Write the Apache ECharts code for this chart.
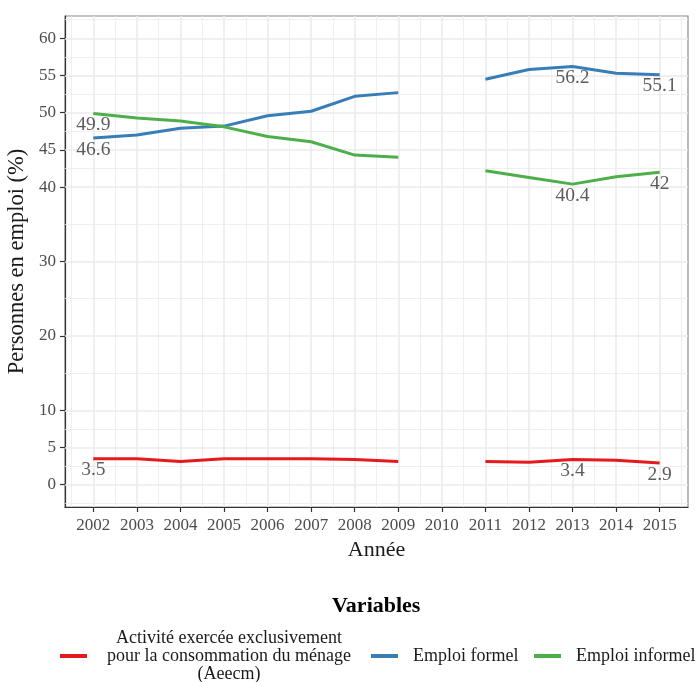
<!DOCTYPE html>
<html>
<head>
<meta charset="utf-8">
<script src="https://cdn.jsdelivr.net/npm/echarts@6/dist/echarts.min.js"></script>
<style>html,body{margin:0;padding:0;background:#fff}#c{width:698px;height:682px}</style>
</head>
<body>
<div id="c"></div>
<script>
const years = [2002, 2003, 2004, 2005, 2006, 2007, 2008, 2009, 2010, 2011, 2012, 2013, 2014, 2015];
const aeecm = [3.5, 3.5, 3.1, 3.5, 3.5, 3.5, 3.4, 3.1, null, 3.1, 3.0, 3.4, 3.3, 2.9];
const formel = [46.6, 47.0, 47.9, 48.2, 49.6, 50.2, 52.2, 52.7, null, 54.5, 55.8, 56.2, 55.3, 55.1];
const informel = [49.9, 49.3, 48.9, 48.1, 46.8, 46.1, 44.3, 44.0, null, 42.2, 41.3, 40.4, 41.4, 42.0];
const seriesNames = ['Activité exercée exclusivement\npour la consommation du ménage\n(Aeecm)', 'Emploi formel', 'Emploi informel'];
const seriesColors = ['#E41A1C', '#377EB8', '#4DAF4A'];
const labelYears = [2002, 2013, 2015];
const yTicks = [0, 5, 10, 20, 30, 40, 45, 50, 55, 60];
const yMinor = [-2.5, 2.5, 7.5, 15, 25, 35, 42.5, 47.5, 52.5, 57.5, 62.5];
const xMinor = [2001.5, 2002.5, 2003.5, 2004.5, 2005.5, 2006.5, 2007.5, 2008.5, 2009.5, 2010.5, 2011.5, 2012.5, 2013.5, 2014.5, 2015.5];

const FONT = 'Liberation Serif';
const allValues = [aeecm, formel, informel];

const lineSeries = allValues.map((vals, i) => ({
  name: seriesNames[i],
  type: 'line',
  data: years.map((y, k) => [y, vals[k]]),
  showSymbol: false,
  symbol: 'none',
  connectNulls: false,
  lineStyle: { color: seriesColors[i], width: 3 },
  itemStyle: { color: seriesColors[i] },
  z: 3
}));

const labelData = [];
allValues.forEach(vals => {
  labelYears.forEach(y => {
    const v = vals[years.indexOf(y)];
    labelData.push([y, v]);
  });
});

const gridSeries = {
  type: 'line',
  data: [],
  silent: true,
  z: 1,
  markLine: {
    silent: true,
    z: 1,
    symbol: ['none', 'none'],
    label: { show: false },
    emphasis: { disabled: true },
    animation: false,
    data: [
      ...yMinor.map(v => ({ yAxis: v, lineStyle: { color: '#ebebeb', width: 0.8, type: 'solid' } })),
      ...xMinor.map(v => ({ xAxis: v, lineStyle: { color: '#ebebeb', width: 0.8, type: 'solid' } })),
      ...yTicks.map(v => ({ yAxis: v, lineStyle: { color: '#ebebeb', width: 1.6, type: 'solid' } })),
      ...years.map(v => ({ xAxis: v, lineStyle: { color: '#ebebeb', width: 1.6, type: 'solid' } }))
    ]
  }
};

const labelSeries = {
  type: 'scatter',
  data: labelData,
  symbolSize: 1,
  itemStyle: { color: 'rgba(0,0,0,0)' },
  silent: true,
  z: 4,
  label: {
    show: true,
    position: 'inside',
    offset: [0, 11.5],
    formatter: p => String(p.value[1]),
    fontFamily: FONT,
    fontSize: 19.5,
    color: '#333333'
  }
};

const chart = echarts.init(document.getElementById('c'), null, { renderer: 'canvas' });
chart.setOption({
  animation: false,
  backgroundColor: '#ffffff',
  title: {
    text: 'Variables',
    left: 332,
    top: 595,
    padding: 0,
    textStyle: { fontFamily: FONT, fontSize: 22, fontWeight: 'bold', color: '#000' }
  },
  grid: {
    left: 65, right: 10, top: 16, bottom: 175,
    outerBoundsMode: 'none',
    containLabel: false,
    show: true, borderColor: '#8a8a8a', borderWidth: 1.2, backgroundColor: 'transparent'
  },
  xAxis: {
    type: 'value',
    min: 2001.35, max: 2015.65,
    name: 'Année',
    nameLocation: 'middle',
    nameGap: 30,
    nameTextStyle: { fontFamily: FONT, fontSize: 22, color: '#1a1a1a' },
    axisLine: { show: true, onZero: false, lineStyle: { color: '#333', width: 1.2 } },
    axisTick: { show: true, customValues: years, length: 5, lineStyle: { color: '#333', width: 1.2 } },
    axisLabel: { customValues: years, formatter: v => String(v), fontFamily: FONT, fontSize: 17, color: '#4d4d4d', margin: 10 },
    splitLine: { show: false }
  },
  yAxis: {
    type: 'value',
    min: -3, max: 63,
    name: 'Personnes en emploi (%)',
    nameLocation: 'middle',
    nameGap: 28,
    nameRotate: 90,
    nameTextStyle: { fontFamily: FONT, fontSize: 22.5, color: '#1a1a1a' },
    axisLine: { show: true, onZero: false, lineStyle: { color: '#333', width: 1.2 } },
    axisTick: { show: true, customValues: yTicks, length: 5, lineStyle: { color: '#333', width: 1.2 } },
    axisLabel: { customValues: yTicks, formatter: v => String(v), fontFamily: FONT, fontSize: 17, color: '#4d4d4d', margin: 9 },
    splitLine: { show: false }
  },
  legend: [
    {
      data: [seriesNames[0]],
      left: 60, top: 629, padding: 0,
      icon: 'rect', itemWidth: 27, itemHeight: 4,
      formatter: n => n.split('\n').map(l => '{a|' + l + '}').join('\n'),
      textStyle: { fontFamily: FONT, fontSize: 18, color: '#1a1a1a',
        rich: { a: { fontFamily: FONT, fontSize: 18, color: '#1a1a1a', width: 274, align: 'center', lineHeight: 18 } } }
    },
    {
      data: [seriesNames[1]],
      left: 371, top: 647, padding: 0,
      icon: 'rect', itemWidth: 27, itemHeight: 4,
      formatter: n => '{a|' + n + '}',
      textStyle: { fontFamily: FONT, fontSize: 18, color: '#1a1a1a',
        rich: { a: { fontFamily: FONT, fontSize: 18, color: '#1a1a1a', lineHeight: 18, padding: [0, 0, 0, 10] } } }
    },
    {
      data: [seriesNames[2]],
      left: 534, top: 647, padding: 0,
      icon: 'rect', itemWidth: 27, itemHeight: 4,
      formatter: n => '{a|' + n + '}',
      textStyle: { fontFamily: FONT, fontSize: 18, color: '#1a1a1a',
        rich: { a: { fontFamily: FONT, fontSize: 18, color: '#1a1a1a', lineHeight: 18, padding: [0, 0, 0, 10] } } }
    }
  ],
  series: [gridSeries, ...lineSeries, labelSeries]
});
</script>
</body>
</html>
